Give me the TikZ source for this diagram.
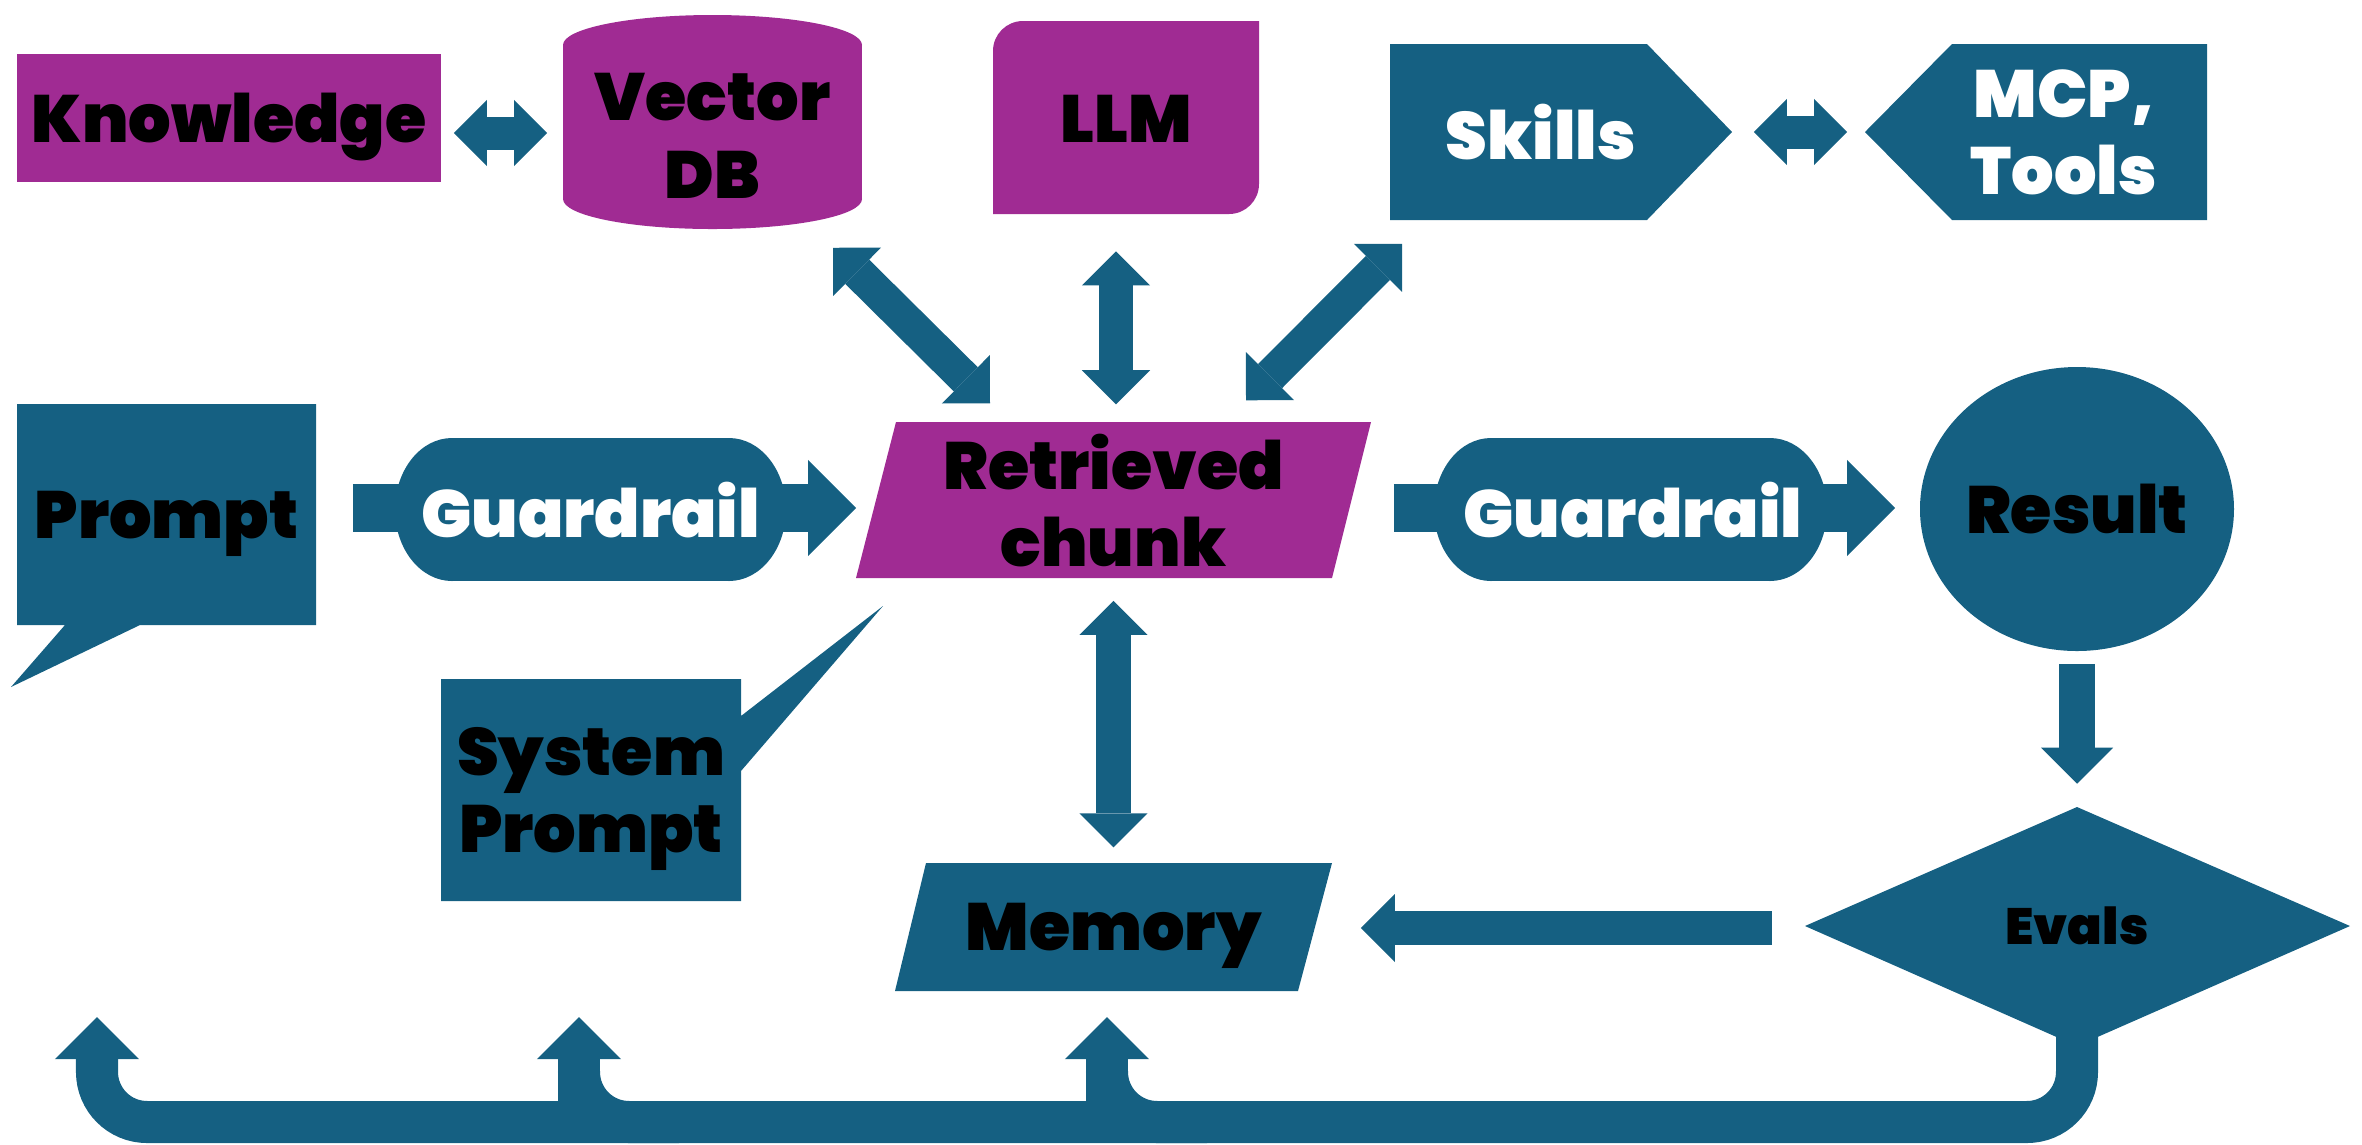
\documentclass[tikz,border=0pt]{standalone}
\usepackage{fontspec}
\usetikzlibrary{arrows.meta}
\newfontfamily\heavy{Poppins Black}
\definecolor{teal1}{HTML}{156082}
\definecolor{plum}{HTML}{A02B93}

\tikzset{
  Big/.tip={Triangle[length=0pt 1, width=0pt 2, line width=0pt]},
  conn/.style={draw=teal1, line width=#1, -{Big}},
  biconn/.style={draw=teal1, line width=#1, {Big}-{Big}},
  loopline/.style={draw=teal1, line width=0.42cm},
  lbl/.style={font=\heavy\fontsize{19}{22}\selectfont, align=center, inner sep=0pt, text=black, text depth=0pt},
  area/.style 2 args={minimum width=#1cm, minimum height=#2cm},
}

\begin{document}
\begin{tikzpicture}[x=0.01cm, y=-0.01cm]
\useasboundingbox (0,0) rectangle (2362,1144);

% ---- shapes ----
% Knowledge
\fill[plum] (17,54) rectangle (441,182);
% Vector DB cylinder
\fill[plum] (563,45) rectangle (862,199);
\fill[plum] (712.5,45) ellipse [x radius=149.5, y radius=30];
\fill[plum] (712.5,199) ellipse [x radius=149.5, y radius=30];
% LLM, two rounded corners
\fill[plum] (993,51) .. controls (993,34.4) and (1006.4,21) .. (1023,21) -- (1259,21)
  -- (1259,184) .. controls (1259,200.6) and (1245.6,214) .. (1229,214) -- (993,214) -- cycle;
% Skills and MCP tags
\fill[teal1] (1390,44) -- (1647,44) -- (1732,132) -- (1647,220) -- (1390,220) -- cycle;
\fill[teal1] (1952,44) -- (2207,44) -- (2207,220) -- (1952,220) -- (1865,132) -- cycle;
% Prompt speech bubble
\fill[teal1] (17,404) -- (316,404) -- (316,625) -- (140,625) -- (11,687) -- (65,625) -- (17,625) -- cycle;
% Retrieved chunk
\fill[plum] (896,422) -- (1371,422) -- (1332,578) -- (856,578) -- cycle;
% Result
\fill[teal1] (2077,509) ellipse [x radius=157, y radius=142];
% System Prompt callout
\fill[teal1] (441,679) -- (741,679) -- (741,716) -- (883,606) -- (741,771) -- (741,901) -- (441,901) -- cycle;
% Memory
\fill[teal1] (926,863) -- (1332,863) -- (1298,991) -- (895,991) -- cycle;
% Evals
\fill[teal1] (2077,807) -- (2350,926) -- (2077,1046) -- (1805,926) -- cycle;

% ---- labels ----
\node[lbl, area={4.24}{1.28}] (kn) at (229,118) {Knowledge};
\node[lbl, area={2.99}{2.14}] (vdb) at (712.5,136) {Vector\\DB};
\node[lbl, area={2.66}{1.93}] (llm) at (1126,119) {LLM};
\node[lbl, text=white, area={3.82}{1.76}] (skills) at (1541,132) {Skills};
\node[lbl, text=white, area={3.98}{1.76}] (mcp) at (2064,132) {MCP,\\Tools};
\node[lbl, area={2.99}{2.21}] (prompt) at (166.5,514.5) {Prompt};
\node[lbl, area={5.15}{1.56}] (chunk) at (1113.5,500) {Retrieved\\chunk};
\node[lbl, area={3.14}{2.84}] (result) at (2077,509) {Result};
\node[lbl, area={3.00}{2.22}] (sysp) at (591,790) {System\\Prompt};
\node[lbl, area={4.37}{1.28}] (memory) at (1113.5,927) {Memory};
\node[lbl, font=\heavy\fontsize{14.5}{17}\selectfont, area={5.45}{2.39}] (evals) at (2077,926) {Evals};

% ---- connectors ----
\draw[biconn=0.33cm] ([shift={(12,15)}]kn.east) -- ([shift={(-15,-3)}]vdb.west);
\draw[biconn=0.33cm] ([shift={(21,0)}]skills.east) -- ([shift={(-17,0)}]mcp.west);
\draw[biconn=0.34cm] ([shift={(120.5,4)}]vdb.south) -- ([shift={(-123.5,-18)}]chunk.north);
\draw[biconn=0.34cm] ([shift={(-10,35)}]llm.south) -- ([shift={(2.5,-17)}]chunk.north);
\draw[biconn=0.34cm] ([shift={(-139,23)}]skills.south) -- ([shift={(132.5,-21)}]chunk.north);
\draw[conn=0.48cm] ([shift={(36,-6.5)}]prompt.east) -- ([shift={(1,8)}]chunk.west);
\draw[conn=0.48cm] ([shift={(22,8)}]chunk.east) -- ([shift={(-24,-1)}]result.west);
\draw[conn=0.36cm] ([shift={(0,12)}]result.south) -- ([shift={(0,-22)}]evals.north);
\draw[conn=0.34cm] ([shift={(-32,2)}]evals.west) -- ([shift={(28,1)}]memory.east);
\draw[biconn=0.34cm] ([shift={(0,22)}]chunk.south) -- ([shift={(0,-15)}]memory.north);

% feedback loop from Evals back to the inputs
\coordinate (base) at (0,1122);
\coordinate (toPrompt) at (97,1017);
\coordinate (toSys) at (579,1017);
\coordinate (toMem) at (1107,1017);
\draw[loopline, rounded corners=0.5cm, -{Big}] ([shift={(0,-30)}]evals.south)
  -- (evals.south |- base) -- (toPrompt |- base) -- (toPrompt);
\draw[loopline, -{Big}] (toSys |- base) -- (toSys);
\draw[loopline, rounded corners=0.5cm] (toSys) ++(0,55) -- (toSys |- base) -- ++(100,0);
\draw[loopline, -{Big}] (toMem |- base) -- (toMem);
\draw[loopline, rounded corners=0.5cm] (toMem) ++(0,55) -- (toMem |- base) -- ++(100,0);

% ---- guardrails on the prompt and result paths ----
\fill[teal1] (452,438) rectangle (729,581);
\fill[teal1] (452,509.5) ellipse [x radius=57, y radius=71.5];
\fill[teal1] (729,509.5) ellipse [x radius=57, y radius=71.5];
\fill[teal1] (1491,438) rectangle (1770,581);
\fill[teal1] (1491,509.5) ellipse [x radius=57, y radius=71.5];
\fill[teal1] (1770,509.5) ellipse [x radius=57, y radius=71.5];
\node[lbl, text=white] (g1) at (590.5,509.5) {Guardrail};
\node[lbl, text=white] (g2) at (1633,509.5) {Guardrail};
\end{tikzpicture}
\end{document}
